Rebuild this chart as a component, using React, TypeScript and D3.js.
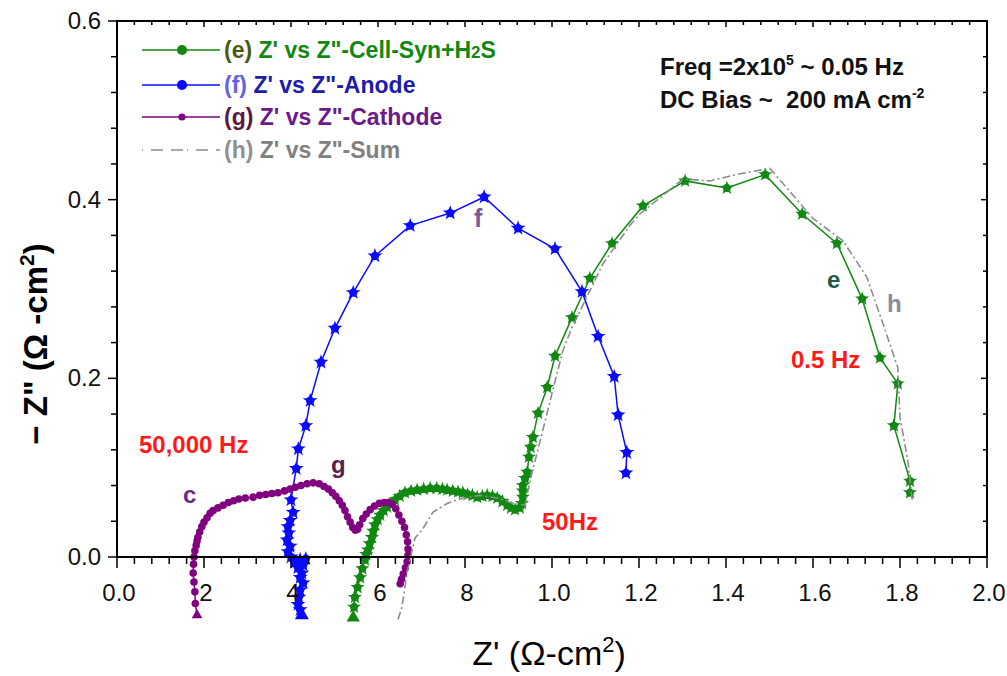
import React from 'react';
import * as d3 from 'd3';

const W = 1007;
const H = 676;

const xTickValues = [0, 0.2, 0.4, 0.6, 0.8, 1.0, 1.2, 1.4, 1.6, 1.8, 2.0];
const xTickLabels = ['0.0', '2', '4', '6', '8', '1.0', '1.2', '1.4', '1.6', '1.8', '2.0'];
const yTickValues = [0, 0.2, 0.4, 0.6];
const yTickLabels = ['0.0', '0.2', '0.4', '0.6'];

// (e) Z' vs Z''-Cell-Syn+H2S
const cellSeries: [number, number][] = [
  [0.543, -0.068], [0.545, -0.056], [0.547, -0.045], [0.553, -0.034], [0.559, -0.023], [0.564, -0.013],
  [0.570, -0.003], [0.573, 0.003], [0.577, 0.008], [0.581, 0.015], [0.586, 0.022], [0.589, 0.029],
  [0.593, 0.036], [0.599, 0.042], [0.605, 0.047], [0.613, 0.052], [0.621, 0.056], [0.630, 0.060],
  [0.639, 0.064], [0.650, 0.068], [0.662, 0.072], [0.676, 0.074], [0.690, 0.075], [0.705, 0.076],
  [0.720, 0.077], [0.735, 0.077], [0.748, 0.076], [0.759, 0.075], [0.772, 0.074], [0.784, 0.073],
  [0.795, 0.072], [0.806, 0.070], [0.817, 0.069], [0.828, 0.067], [0.840, 0.068], [0.851, 0.069],
  [0.863, 0.068], [0.874, 0.066], [0.886, 0.062], [0.897, 0.058], [0.906, 0.055], [0.915, 0.053],
  [0.926, 0.055], [0.931, 0.060], [0.933, 0.067], [0.933, 0.074], [0.933, 0.080], [0.938, 0.088],
  [0.943, 0.095], [0.947, 0.112], [0.951, 0.123], [0.956, 0.134], [0.968, 0.161], [0.989, 0.190],
  [1.007, 0.225], [1.046, 0.268], [1.087, 0.312], [1.138, 0.351], [1.209, 0.393], [1.306, 0.421],
  [1.402, 0.413], [1.490, 0.428], [1.575, 0.384], [1.655, 0.351], [1.713, 0.289], [1.754, 0.223],
  [1.795, 0.194], [1.786, 0.147], [1.823, 0.085], [1.823, 0.072],
];

// (f) Z' vs Z''-Anode
const anodeSeries: [number, number][] = [
  [0.425, -0.065], [0.421, -0.059], [0.416, -0.053], [0.418, -0.045], [0.421, -0.037], [0.428, -0.029],
  [0.421, -0.023], [0.425, -0.018], [0.416, -0.012], [0.428, -0.009], [0.434, -0.002], [0.421, -0.003],
  [0.409, -0.006], [0.400, 0.000], [0.393, 0.006], [0.398, 0.012], [0.391, 0.019], [0.395, 0.027],
  [0.393, 0.034], [0.398, 0.041], [0.405, 0.050], [0.400, 0.064], [0.412, 0.099], [0.417, 0.121],
  [0.434, 0.147], [0.444, 0.175], [0.469, 0.218], [0.501, 0.256], [0.543, 0.296], [0.593, 0.337],
  [0.674, 0.371], [0.766, 0.385], [0.844, 0.403], [0.922, 0.368], [1.007, 0.345], [1.069, 0.297],
  [1.106, 0.247], [1.143, 0.202], [1.152, 0.159], [1.172, 0.117], [1.170, 0.094],
];

// (g) Z' vs Z''-Cathode
const cathodeSeries: [number, number][] = [
  [0.184, -0.065], [0.180, -0.052], [0.179, -0.039], [0.177, -0.028], [0.175, -0.018], [0.176, -0.008],
  [0.177, 0.000], [0.179, 0.007], [0.182, 0.013], [0.184, 0.018], [0.186, 0.022], [0.190, 0.028],
  [0.195, 0.034], [0.200, 0.039], [0.207, 0.044], [0.214, 0.049], [0.221, 0.052], [0.232, 0.055],
  [0.244, 0.058], [0.256, 0.061], [0.268, 0.063], [0.280, 0.065], [0.295, 0.066], [0.313, 0.067],
  [0.328, 0.069], [0.342, 0.070], [0.356, 0.071], [0.370, 0.072], [0.385, 0.074], [0.398, 0.076],
  [0.410, 0.078], [0.423, 0.080], [0.437, 0.082], [0.451, 0.083], [0.465, 0.082], [0.476, 0.079],
  [0.486, 0.076], [0.495, 0.072], [0.503, 0.068], [0.511, 0.063], [0.518, 0.058], [0.524, 0.052],
  [0.530, 0.045], [0.536, 0.039], [0.542, 0.033], [0.548, 0.030], [0.553, 0.031], [0.558, 0.036],
  [0.565, 0.043], [0.573, 0.048], [0.582, 0.053], [0.592, 0.057], [0.603, 0.060], [0.614, 0.061],
  [0.624, 0.061], [0.633, 0.059], [0.641, 0.054], [0.648, 0.047], [0.655, 0.040], [0.661, 0.033],
  [0.665, 0.025], [0.668, 0.017], [0.669, 0.009], [0.669, 0.002], [0.667, -0.005], [0.663, -0.012],
  [0.658, -0.019], [0.654, -0.025], [0.651, -0.030],
];

// (h) Z' vs Z''-Sum
const sumSeries: [number, number][] = [
  [0.646, -0.070], [0.655, -0.056], [0.667, -0.017], [0.685, 0.021], [0.701, 0.030], [0.726, 0.050],
  [0.759, 0.060], [0.795, 0.066], [0.834, 0.069], [0.874, 0.066], [0.910, 0.060], [0.938, 0.058],
  [0.945, 0.075], [0.954, 0.094], [0.979, 0.142], [1.002, 0.187], [1.025, 0.231], [1.046, 0.257],
  [1.117, 0.328], [1.179, 0.371], [1.202, 0.384], [1.301, 0.423], [1.363, 0.421], [1.432, 0.429],
  [1.501, 0.435], [1.600, 0.379], [1.669, 0.354], [1.724, 0.313], [1.761, 0.261], [1.795, 0.212],
  [1.800, 0.156], [1.818, 0.108], [1.828, 0.064],
];

const GREEN = '#118811';
const BLUE = '#0a0aff';
const PURPLE = '#800080';
const GRAY = '#8c8c8c';
const RED = '#ff1a1a';
const FONT = "'Liberation Sans', Arial, Helvetica, sans-serif";

const x = d3.scaleLinear().domain([0, 2]).range([117, 987]);
const y = d3.scaleLinear().domain([0, 0.6]).range([557, 21]);

const line = d3.line<[number, number]>().x((d) => x(d[0])).y((d) => y(d[1]));

function Markers({ data, color, size, star }: { data: [number, number][]; color: string; size: number; star?: boolean }) {
  const circ = d3.symbol().type(d3.symbolCircle).size(size * (star ? 0.7 : 1))() as string;
  const st = d3.symbol().type(d3.symbolStar).size(size * 0.9)() as string;
  const tri = d3.symbol().type(d3.symbolTriangle).size(size * 1.1)() as string;
  return (
    <g fill={color}>
      {data.map((d, i) => (
        <g key={i} transform={`translate(${x(d[0])},${y(d[1])})`}>
          <path d={i === 0 ? tri : circ} />
          {star && i > 0 && <path d={st} />}
        </g>
      ))}
    </g>
  );
}

export default function App() {
  const xMinor = d3.range(0, 2.0001, 0.04);
  const yMinor = d3.range(0, 0.6001, 0.04);
  const x0 = x(0), x1 = x(2), y0 = y(0), y1 = y(0.6);
  const legendRows = [
    { y: 50, color: GREEN, tag: '(e)', tagColor: '#4a5a12', text: 'Z\' vs Z"-Cell-Syn+H', sub: '2', tail: 'S', textColor: GREEN, marker: 82, dashed: false },
    { y: 85, color: BLUE, tag: ' (f)', tagColor: '#6464e0', text: 'Z\' vs Z"-Anode', sub: '', tail: '', textColor: '#1c1ca8', marker: 82, dashed: false },
    { y: 117, color: PURPLE, tag: '(g)', tagColor: '#5a1a40', text: 'Z\' vs Z"-Cathode', sub: '', tail: '', textColor: '#6a1a8a', marker: 40, dashed: false },
    { y: 150, color: GRAY, tag: '(h)', tagColor: '#909090', text: 'Z\' vs Z"-Sum', sub: '', tail: '', textColor: '#808080', marker: 0, dashed: true },
  ];
  return (
    <svg width={W} height={H} style={{ position: 'absolute', left: 0, top: 0, background: '#fff' }} fontFamily={FONT}>
      <rect x={0} y={0} width={W} height={H} fill="#fff" />

      {/* data */}
      <path d={line(cellSeries) as string} fill="none" stroke={GREEN} strokeWidth={1.5} />
      <Markers data={cellSeries} color={GREEN} size={70} star />
      <path d={line(anodeSeries) as string} fill="none" stroke={BLUE} strokeWidth={1.5} />
      <Markers data={anodeSeries} color={BLUE} size={78} star />
      <path d={line(cathodeSeries) as string} fill="none" stroke={PURPLE} strokeWidth={1.5} />
      <Markers data={cathodeSeries} color={PURPLE} size={45} />
      <path d={line(sumSeries) as string} fill="none" stroke={GRAY} strokeWidth={1.6} strokeDasharray="8,3,2,3" />

      {/* axes frame */}
      <rect x={x0} y={y1} width={x1 - x0} height={y0 - y1} fill="none" stroke="#000" strokeWidth={2} />
      {xMinor.map((v, i) => {
        const major = i % 5 === 0;
        return (
          <g key={'xm' + i}>
            <line x1={x(v)} x2={x(v)} y1={y0} y2={y0 + (major ? 11 : 7)} stroke="#000" strokeWidth={1.5} />
            <line x1={x(v)} x2={x(v)} y1={y1} y2={y1 + (major ? 6 : 4)} stroke="#000" strokeWidth={1.5} />
          </g>
        );
      })}
      {yMinor.map((v, i) => {
        const major = i % 5 === 0;
        return (
          <g key={'ym' + i}>
            <line x1={x0} x2={x0 - (major ? 9 : 6)} y1={y(v)} y2={y(v)} stroke="#000" strokeWidth={1.5} />
            <line x1={x1} x2={x1 - (major ? 6 : 4)} y1={y(v)} y2={y(v)} stroke="#000" strokeWidth={1.5} />
          </g>
        );
      })}
      {xTickValues.map((v, i) => (
        <text key={'xl' + i} x={x(v) + 2} y={601} fontSize={24} textAnchor="middle" fill="#111">
          {xTickLabels[i]}
        </text>
      ))}
      {yTickValues.map((v, i) => (
        <text key={'yl' + i} x={101} y={y(v) + 8} fontSize={24} textAnchor="end" fill="#111">
          {yTickLabels[i]}
        </text>
      ))}

      {/* axis titles */}
      <text x={549} y={665} fontSize={34} textAnchor="middle" fill="#000">
        Z' (Ω-cm<tspan fontSize={22} dy={-13}>2</tspan><tspan dy={13}>)</tspan>
      </text>
      <text transform="translate(47,344) rotate(-90)" fontSize={33} fontWeight="bold" textAnchor="middle" fill="#000">
        − Z" (Ω -cm<tspan fontSize={21} dy={-13}>2</tspan><tspan dy={13}>)</tspan>
      </text>

      {/* legend */}
      {legendRows.map((r, i) => (
        <g key={'lg' + i}>
          <line x1={142} x2={220} y1={r.y} y2={r.y} stroke={r.color} strokeWidth={1.6} strokeDasharray={r.dashed ? '1,8,12,8,12,4' : undefined} />
          {r.marker > 0 && (
            <path d={d3.symbol().type(d3.symbolCircle).size(r.marker)() as string} transform={`translate(182,${r.y})`} fill={r.color} />
          )}
          <text x={224} y={r.y + 8} fontSize={23} fontWeight="bold">
            <tspan fill={r.tagColor}>{r.tag}</tspan>
            <tspan fill={r.textColor}> {r.text}</tspan>
            {r.sub && <tspan fill={r.textColor} fontSize={17}>{r.sub}</tspan>}
            {r.tail && <tspan fill={r.textColor}>{r.tail}</tspan>}
          </text>
        </g>
      ))}

      {/* annotations */}
      <text x={660} y={75} fontSize={24} fontWeight="bold" fill="#111">
        Freq =2x10<tspan fontSize={14} dy={-10}>5</tspan><tspan dy={10}> ~ 0.05 Hz</tspan>
      </text>
      <text x={660} y={108} fontSize={24} fontWeight="bold" fill="#111" xmlSpace="preserve">
        DC Bias ~  200 mA cm<tspan fontSize={14} dy={-10}>-2</tspan>
      </text>

      <text x={139} y={453} fontSize={24} fontWeight="bold" fill={RED}>50,000 Hz</text>
      <text x={791} y={368} fontSize={24} fontWeight="bold" fill={RED}>0.5 Hz</text>
      <text x={542} y={530} fontSize={24} fontWeight="bold" fill={RED}>50Hz</text>

      <text x={183} y={503} fontSize={24} fontWeight="bold" fill="#6a2a8a">c</text>
      <text x={331} y={473} fontSize={24} fontWeight="bold" fill="#5a2050">g</text>
      <text x={474} y={227} fontSize={25} fontWeight="bold" fill="#7a5a9a">f</text>
      <text x={827} y={288} fontSize={24} fontWeight="bold" fill="#1a5a4a">e</text>
      <text x={887} y={312} fontSize={24} fontWeight="bold" fill="#8a8aa0">h</text>
    </svg>
  );
}
